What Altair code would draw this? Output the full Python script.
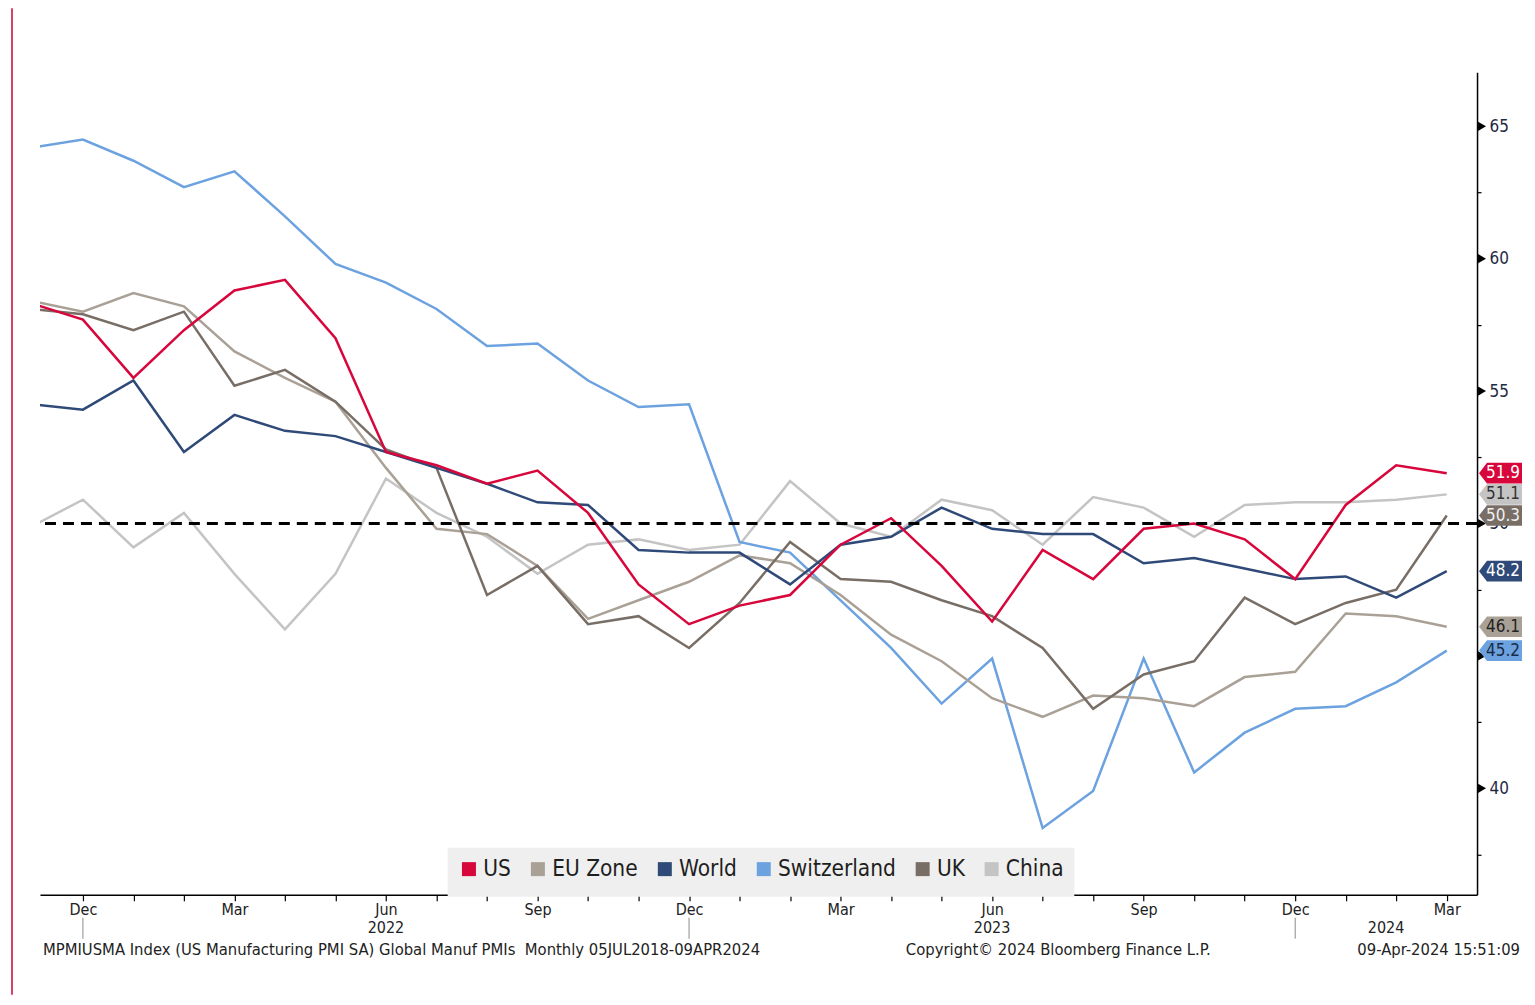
import altair as alt
import pandas as pd

FONT = "DejaVu Sans Condensed"

# ---------------- data ----------------
# months Nov 2021 .. Mar 2024 (index 0 = Dec 2021)
months = ["2021-11", "2021-12",
          "2022-01", "2022-02", "2022-03", "2022-04", "2022-05", "2022-06",
          "2022-07", "2022-08", "2022-09", "2022-10", "2022-11", "2022-12",
          "2023-01", "2023-02", "2023-03", "2023-04", "2023-05", "2023-06",
          "2023-07", "2023-08", "2023-09", "2023-10", "2023-11", "2023-12",
          "2024-01", "2024-02", "2024-03"]

us = [58.3, 57.7,
      55.5, 57.3, 58.8, 59.2, 57.0, 52.7, 52.2, 51.5, 52.0, 50.4, 47.7, 46.2,
      46.9, 47.3, 49.2, 50.2, 48.4, 46.3, 49.0, 47.9, 49.8, 50.0, 49.4, 47.9,
      50.7, 52.2, 51.9]
eu_zone = [58.4, 58.0,
           58.7, 58.2, 56.5, 55.5, 54.6, 52.1, 49.8, 49.6, 48.4, 46.4, 47.1, 47.8,
           48.8, 48.5, 47.3, 45.8, 44.8, 43.4, 42.7, 43.5, 43.4, 43.1, 44.2, 44.4,
           46.6, 46.5, 46.1]
world = [54.5, 54.3,
         55.4, 52.7, 54.1, 53.5, 53.3, 52.7, 52.1, 51.5, 50.8, 50.7, 49.0, 48.9,
         48.9, 47.7, 49.2, 49.5, 50.6, 49.8, 49.6, 49.6, 48.5, 48.7, 48.3, 47.9,
         48.0, 47.2, 48.2]
switzerland = [64.2, 64.5,
               63.7, 62.7, 63.3, 61.6, 59.8, 59.1, 58.1, 56.7, 56.8, 55.4, 54.4, 54.5,
               49.3, 48.9, 47.1, 45.3, 43.2, 44.9, 38.5, 39.9, 44.9, 40.6, 42.1, 43.0,
               43.1, 44.0, 45.2]
uk = [58.1, 57.9,
      57.3, 58.0, 55.2, 55.8, 54.6, 52.8, 52.1, 47.3, 48.4, 46.2, 46.5, 45.3,
      47.0, 49.3, 47.9, 47.8, 47.1, 46.5, 45.3, 43.0, 44.3, 44.8, 47.2, 46.2,
      47.0, 47.5, 50.3]
china = [49.9, 50.9,
         49.1, 50.4, 48.1, 46.0, 48.1, 51.7, 50.4, 49.5, 48.1, 49.2, 49.4, 49.0,
         49.2, 51.6, 50.0, 49.5, 50.9, 50.5, 49.2, 51.0, 50.6, 49.5, 50.7, 50.8,
         50.8, 50.9, 51.1]

series_names = ["US", "EU Zone", "World", "Switzerland", "UK", "China"]
series_colors = ["#d7063b", "#aaa196", "#2f4a78", "#6ca2df", "#786e66", "#c4c4c4"]
label_text_colors = ["#ffffff", "#222222", "#ffffff", "#1a2a44", "#f0f0f0", "#333333"]
draw_order = ["China", "Switzerland", "EU Zone", "UK", "World", "US"]
series_values = {"US": us, "EU Zone": eu_zone, "World": world,
                 "Switzerland": switzerland, "UK": uk, "China": china}

month_names = ["Dec", "Jan", "Feb", "Mar", "Apr", "May", "Jun",
               "Jul", "Aug", "Sep", "Oct", "Nov"]
year_labels = ["2022", "2023", "2024"]
year_separators = [0, 12, 24]
y_ticks = [37.5, 40, 42.5, 45, 47.5, 50, 52.5, 55, 57.5, 60, 62.5, 65]
y_labelled = [40, 50, 55, 60, 65]   # 45 is hidden behind the 45.2 tag
major_y = [40, 45, 50, 55, 60, 65]
threshold = 50

footer_left = "MPMIUSMA Index (US Manufacturing PMI SA) Global Manuf PMIs\u00a0 Monthly 05JUL2018-09APR2024"
footer_mid = "Copyright\u00a9 2024 Bloomberg Finance L.P."
footer_right = "09-Apr-2024 15:51:09"

# ---------------- layout ----------------
W, H = 1438, 823
X_MIN, X_MAX = -0.85, 27.6
Y_MIN, Y_MAX = 35.98, 67.04

rows = []
for name in draw_order:
    for i, (m, v) in enumerate(zip(months, series_values[name])):
        rows.append({"series": name, "month": m, "idx": i - 1, "value": v})
df = pd.DataFrame(rows)

last = pd.DataFrame({
    "series": series_names,
    "value": [series_values[n][-1] for n in series_names],
    "label": [f"{series_values[n][-1]:.1f}" for n in series_names],
    "bcolor": series_colors,
    "tcolor": label_text_colors,
})

ends = year_separators + [X_MAX]
years_df = pd.DataFrame({
    "idx": [(ends[k] + ends[k + 1]) / 2 for k in range(len(year_labels))],
    "label": year_labels,
})
sep_df = pd.DataFrame({"idx": year_separators})
major_df = pd.DataFrame({"value": major_y})
thr_df = pd.DataFrame({"value": [threshold]})

x_scale = alt.Scale(domain=[X_MIN, X_MAX], nice=False, zero=False)
y_scale = alt.Scale(domain=[Y_MIN, Y_MAX], nice=False, zero=False)
color_scale = alt.Scale(domain=series_names, range=series_colors)

names_js = "[" + ",".join(f"'{m}'" for m in month_names) + "]"
ylab_js = "[" + ",".join(str(v) for v in y_labelled) + "]"

x_axis = alt.Axis(
    values=list(range(0, 28)),
    labelExpr=f"datum.value % 3 == 0 ? {names_js}[datum.value % 12] : ''",
    title="", grid=False, domainColor="#000000", domainWidth=1.5,
    tickColor="#000000", tickSize=6, tickWidth=1.2, labelPadding=1,
    labelFont=FONT, labelFontSize=16, labelColor="#222222", labelOverlap=False,
)
y_axis = alt.Axis(
    orient="right", values=y_ticks,
    labelExpr=f"indexof({ylab_js}, datum.value) >= 0 ? datum.label : ''",
    title="", grid=False, domainColor="#000000", domainWidth=1.5,
    tickColor="#000000", tickSize=4, tickWidth=1.2, labelPadding=8,
    labelFont=FONT, labelFontSize=17, labelColor="#1f2a44", labelOverlap=False,
)
legend = alt.Legend(
    title="", orient="none", legendX=408, legendY=776,
    direction="horizontal", fillColor="#efefef", padding=10,
    symbolType="square", symbolSize=49, symbolStrokeWidth=7,
    symbolOpacity=1, labelFont=FONT, labelFontSize=22.5,
    labelColor="#1e1e1e", labelOffset=3, columnPadding=8,
)

X = alt.X("idx:Q", scale=x_scale, axis=x_axis)
Y = alt.Y("value:Q", scale=y_scale, axis=y_axis)

lines = alt.Chart(df).mark_line(strokeWidth=2.5, clip=True).encode(
    x=X, y=Y,
    color=alt.Color("series:N", scale=color_scale, legend=legend),
    detail="series:N",
)

thr = alt.Chart(thr_df).mark_rule(color="#000000", strokeWidth=3, strokeDash=[11, 7]).encode(
    y=Y,
)

tri = alt.Chart(major_df).mark_point(
    shape="triangle-right", filled=True, size=85, color="#000000", opacity=1
).encode(
    x=alt.value(W + 5),
    y=Y,
)

box_path = "M-1,0L-0.63,-0.48L1,-0.48L1,0.48L-0.63,0.48Z"
boxes = alt.Chart(last).mark_point(
    shape=box_path, filled=True, size=1849, opacity=1, strokeWidth=0
).encode(
    x=alt.value(W + 23.5),
    y=Y,
    color=alt.Color("bcolor:N", scale=None),
)

box_text = alt.Chart(last).mark_text(
    font=FONT, fontSize=17, align="center", baseline="middle"
).encode(
    x=alt.value(W + 26),
    y=Y,
    text="label:N",
    color=alt.Color("tcolor:N", scale=None),
)

years = alt.Chart(years_df).mark_text(
    font=FONT, fontSize=16, color="#222222", align="center", baseline="middle"
).encode(
    x=X,
    y=alt.value(H + 33),
    text="label:N",
)

seps = alt.Chart(sep_df).mark_rule(color="#8a8a8a", strokeWidth=1).encode(
    x=X,
    y=alt.value(H + 23),
    y2=alt.value(H + 44),
)

FS = 16.5
f_left = alt.Chart(pd.DataFrame({"t": [footer_left]})).mark_text(
    font=FONT, fontSize=FS, color="#222222", align="left", baseline="middle"
).encode(x=alt.value(3), y=alt.value(H + 55), text="t:N")
f_mid = alt.Chart(pd.DataFrame({"t": [footer_mid]})).mark_text(
    font=FONT, fontSize=FS, color="#222222", align="center", baseline="middle"
).encode(x=alt.value(1019), y=alt.value(H + 55), text="t:N")
f_right = alt.Chart(pd.DataFrame({"t": [footer_right]})).mark_text(
    font=FONT, fontSize=FS, color="#222222", align="right", baseline="middle"
).encode(x=alt.value(1481), y=alt.value(H + 55), text="t:N")

edge = alt.Chart(pd.DataFrame({"t": [0]})).mark_rule(color="#d9416b", strokeWidth=2).encode(
    x=alt.value(-28), y=alt.value(-64), y2=alt.value(H + 100),
)

chart = alt.layer(
    lines, thr, tri, boxes, box_text, years, seps, f_left, f_mid, f_right, edge
).properties(
    width=W, height=H,
    autosize=alt.AutoSizeParams(type="none"),
    padding={"left": 32, "top": 64, "right": 50, "bottom": 100},
).configure_view(stroke=None)

chart.save("out.html", embed_options={"renderer": "svg", "actions": False})
